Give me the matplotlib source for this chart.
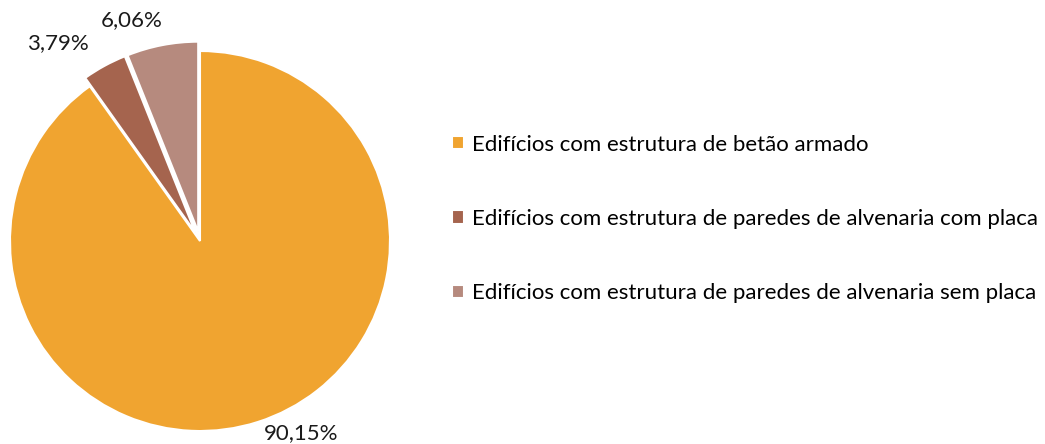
import numpy as np
import matplotlib
matplotlib.use('Agg')
import matplotlib.pyplot as plt

plt.rcParams['font.family'] = ['Lato', 'DejaVu Sans']

## data
labels = ['Edifícios com estrutura de betão armado',
          'Edifícios com estrutura de paredes de alvenaria com placa',
          'Edifícios com estrutura de paredes de alvenaria sem placa']
values = [90.15, 3.79, 6.06]
pct_text = ['90,15%', '3,79%', '6,06%']
colors = ['#F0A430', '#A5644E', '#B68A7E']
explode = [0, 0.05, 0.05]

fig = plt.figure(figsize=(10.45, 4.44), dpi=100)
ax = fig.add_axes([200/1045 - 190/1045, (444-241-190)/444, 380/1045, 380/444])

wedges, _ = ax.pie(values, colors=colors, explode=explode, startangle=90,
                   counterclock=False, radius=1,
                   wedgeprops=dict(edgecolor='white', linewidth=1.5))
ax.set_xlim(-1, 1)
ax.set_ylim(-1, 1)
ax.set_aspect('equal')

## label positions (data units, radius = 1)
label_pos = [(0.53, -1.01), (-0.75, 1.04), (-0.36, 1.165)]
for (x, y), t in zip(label_pos, pct_text):
    ax.text(x, y, t, ha='center', va='center', fontsize=16, color='#1a1a1a', clip_on=False)

fig.legend(wedges, labels, loc='center left', bbox_to_anchor=(452/1045, 1 - 219/444),
           frameon=False, fontsize=16, labelspacing=2.45, handlelength=0.55,
           handleheight=0.55, handletextpad=0.36, borderaxespad=0, borderpad=0)

fig.savefig('out.png', dpi=100)
